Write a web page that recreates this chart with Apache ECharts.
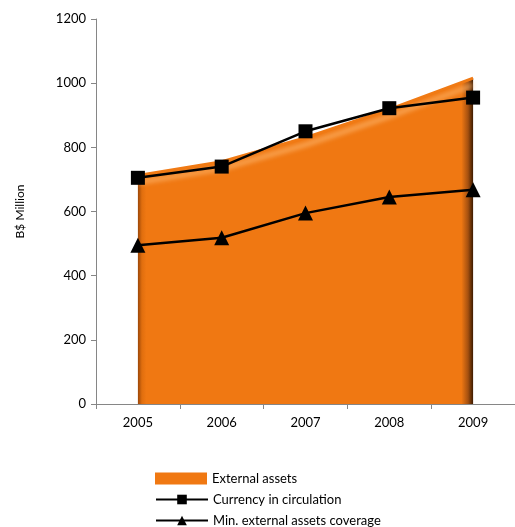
<!DOCTYPE html>
<html>
<head>
<meta charset="utf-8">
<script src="https://cdn.jsdelivr.net/npm/echarts@6/dist/echarts.min.js"></script>
<style>
  html, body { margin: 0; padding: 0; background: #fff; }
  #chart { width: 515px; height: 527px; }
</style>
</head>
<body>
<div id="chart"></div>
<script>
// Years on the category axis
const years = ['2005', '2006', '2007', '2008', '2009'];
// Series values, B$ million
const externalAssets = [712, 755, 830, 918, 1016];
const currencyInCirculation = [705, 740, 850, 922, 955];
const minCoverage = [495, 518, 595, 645, 668];
// Value axis ticks
const yMin = 0, yMax = 1200, yStep = 200;

const font = 'Lato, "Open Sans", sans-serif';
const chart = echarts.init(document.getElementById('chart'), null, { renderer: 'canvas' });

// One legend block per row so the three entries stack in a single column
function legendRow(name, top, icon) {
  const item = icon ? { name: name, icon: icon } : { name: name };
  return {
    orient: 'vertical',
    left: 150,
    top: top,
    itemWidth: 52,
    itemHeight: 12,
    textStyle: { fontFamily: font, fontSize: 13, color: '#000' },
    data: [item]
  };
}

chart.setOption({
  animation: false,
  grid: { left: 96, top: 19, width: 424, height: 385, containLabel: false },
  legend: [
    legendRow('External assets', 467, 'rect'),
    legendRow('Currency in circulation', 488),
    legendRow('Min. external assets coverage', 509)
  ],
  xAxis: {
    type: 'category',
    data: years,
    boundaryGap: true,
    axisLine: { lineStyle: { color: '#868686', width: 1 } },
    axisTick: { show: true, alignWithLabel: false, length: 5, lineStyle: { color: '#868686' } },
    axisLabel: { fontFamily: font, fontSize: 13, color: '#000', margin: 12 },
    splitLine: { show: false }
  },
  yAxis: {
    type: 'value',
    min: yMin,
    max: yMax,
    interval: yStep,
    name: 'B$ Million',
    nameLocation: 'middle',
    nameGap: 70,
    nameTextStyle: { fontFamily: font, fontSize: 12, color: '#000' },
    axisLine: { show: true, lineStyle: { color: '#868686', width: 1 } },
    axisTick: { show: true, length: 5, lineStyle: { color: '#868686' } },
    axisLabel: {
      fontFamily: font, fontSize: 13, color: '#000', margin: 10,
      formatter: function (v) { return String(v); }
    },
    splitLine: { show: false }
  },
  series: [
    {
      name: 'External assets',
      type: 'line',
      data: externalAssets,
      symbol: 'none',
      z: 1,
      lineStyle: {
        color: '#F07A14',
        width: 3,
        shadowColor: 'rgba(255,190,120,0.95)',
        shadowBlur: 5,
        shadowOffsetY: 7
      },
      itemStyle: { color: '#F07812' },
      areaStyle: {
        opacity: 1,
        color: new echarts.graphic.LinearGradient(0, 0, 1, 0, [
          { offset: 0, color: '#9C4708' },
          { offset: 0.012, color: '#E06E0E' },
          { offset: 0.025, color: '#F07812' },
          { offset: 0.965, color: '#F07812' },
          { offset: 0.985, color: '#A45010' },
          { offset: 1, color: '#3C1A00' }
        ])
      }
    },
    {
      name: 'Currency in circulation',
      type: 'line',
      data: currencyInCirculation,
      symbol: 'rect',
      symbolSize: 14,
      z: 3,
      lineStyle: { color: '#000', width: 2.5 },
      itemStyle: { color: '#000' }
    },
    {
      name: 'Min. external assets coverage',
      type: 'line',
      data: minCoverage,
      symbol: 'triangle',
      symbolSize: 15,
      z: 3,
      lineStyle: { color: '#000', width: 2.5 },
      itemStyle: { color: '#000' }
    }
  ]
});
</script>
</body>
</html>
